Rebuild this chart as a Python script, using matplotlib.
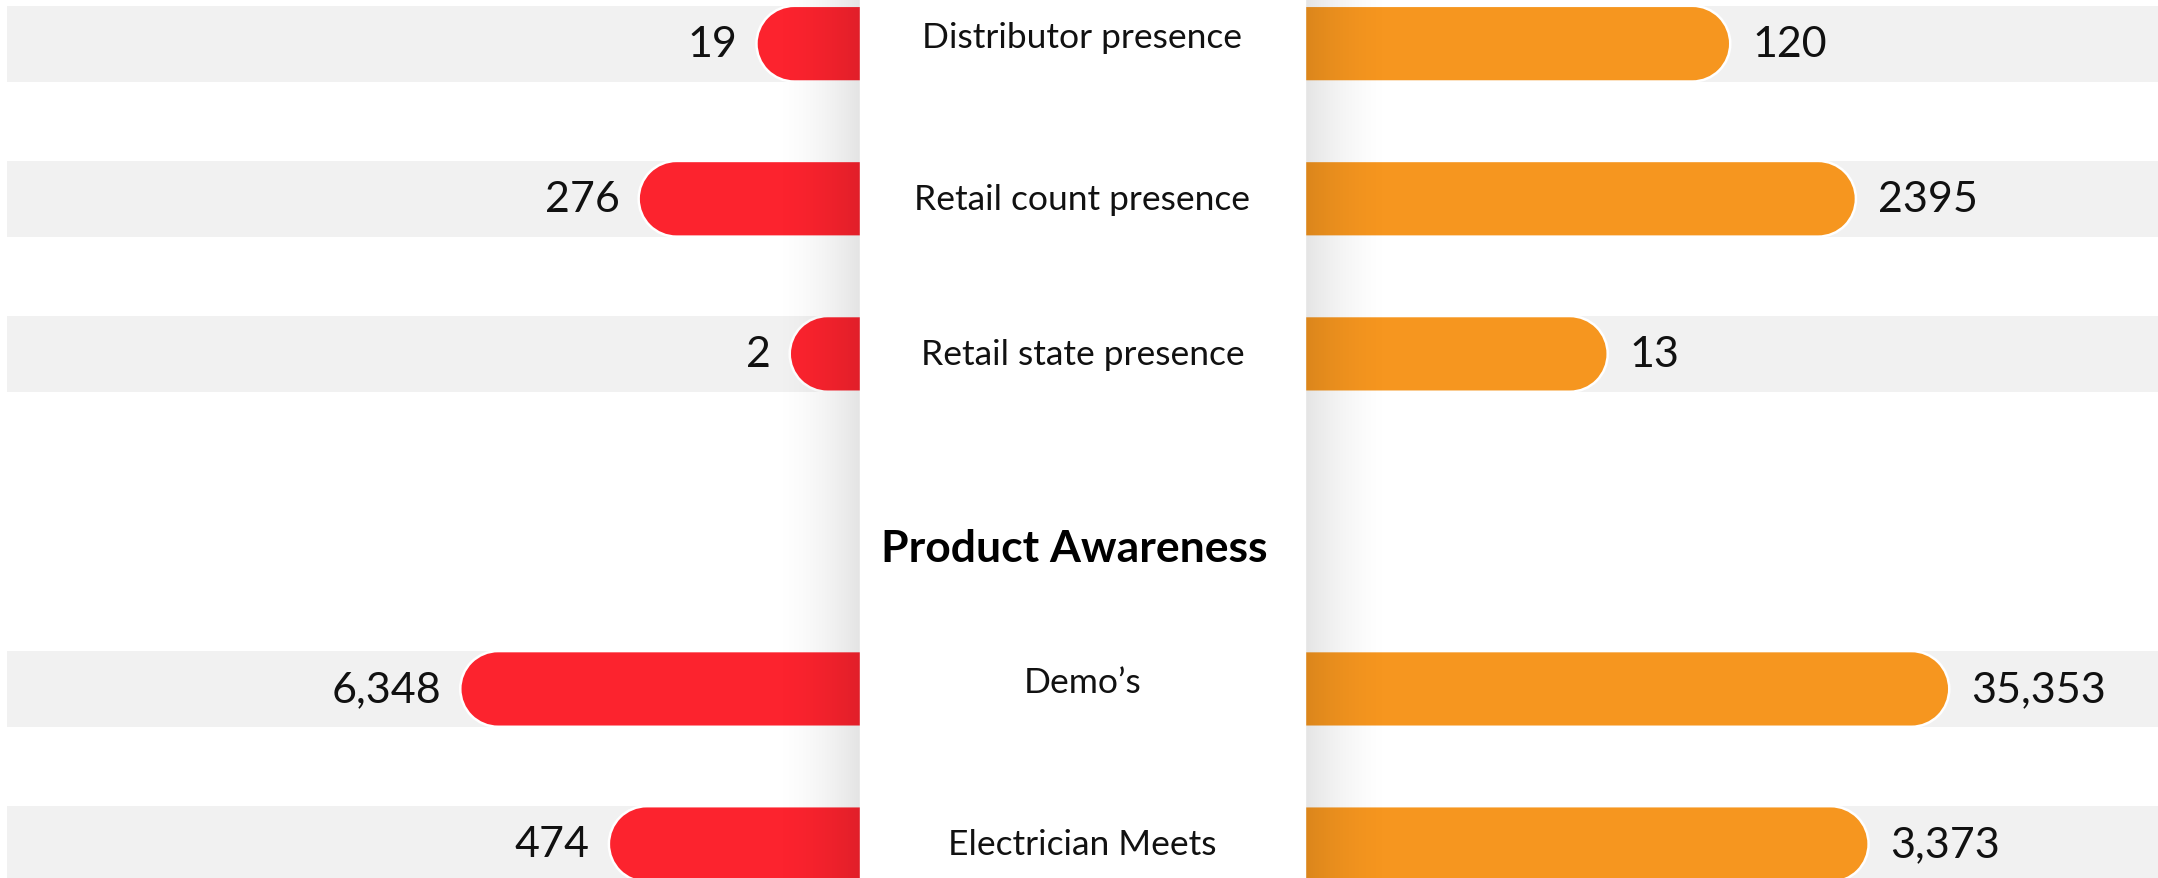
import numpy as np
import matplotlib.pyplot as plt
from matplotlib.patches import PathPatch, Rectangle
from matplotlib.path import Path
from matplotlib.transforms import IdentityTransform

plt.rcParams['font.family'] = ['Lato', 'DejaVu Sans']

# chart data
categories = ['Distributor presence', 'Retail count presence', 'Retail state presence',
              'Demo’s', 'Electrician Meets']
section_title = 'Product Awareness'
left_values = [19, 276, 2, 6348, 474]
right_values = [120, 2395, 13, 35353, 3373]
left_labels = ['19', '276', '2', '6,348', '474']
right_labels = ['120', '2395', '13', '35,353', '3,373']

W, H = 2158, 879
RED = '#fc232e'
ORANGE = '#f6961f'
BAND = '#f1f1f1'

# row layout (row units), second section after a title gap
rows = [0, 1, 2, 4.16, 5.16]
first_in_section = [True, False, False, True, False]
title_y = 3.25
ylim = (5.379, -0.288)
bar_h = 0.488
panel_l, panel_r = 860, 1305
mid = (panel_l + panel_r) / 2

fig = plt.figure(figsize=(W / 100, H / 100), dpi=100)

# background bands
ax_bg = fig.add_axes([0, 0, 1, 1], zorder=0)
ax_bg.set_xlim(0, W)
ax_bg.set_ylim(*ylim)
ax_bg.barh(rows, W - 7, left=7, height=bar_h, color=BAND)
ax_bg.axis('off')


# compressed scales for the two sides
def fwd_l(v):
    return np.log10(np.maximum(np.asarray(v, float) + 20, 1e-9))


def inv_l(g):
    return 10 ** np.asarray(g, float) - 20


def fwd_r(v):
    lg = np.log10(np.maximum(np.asarray(v, float), 1e-12))
    return np.sign(lg) * np.sqrt(np.abs(lg))


def inv_r(f):
    f = np.asarray(f, float)
    return 10 ** (np.sign(f) * f ** 2)


ax_l = fig.add_axes([0, 0, mid / W, 1], zorder=1)
ax_l.set_xscale('function', functions=(fwd_l, inv_l))
ax_l.set_xlim(inv_l(7.243), inv_l(-0.845))
ax_l.set_ylim(*ylim)
ax_r = fig.add_axes([mid / W, 0, 1 - mid / W, 1], zorder=1)
ax_r.set_xscale('function', functions=(fwd_r, inv_r))
ax_r.set_xlim(inv_r(-0.601), inv_r(2.791))
ax_r.set_ylim(*ylim)
for a in (ax_l, ax_r):
    a.axis('off')
    a.patch.set_alpha(0)


def pill(x_in, x_end, yc, r):
    # bar with a semicircular outer end, in pixels
    s = 1 if x_end > x_in else -1
    cx = x_end - s * r
    arc = Path.arc(-90, 90) if s > 0 else Path.arc(90, 270)
    av = arc.vertices * r + [cx, yc]
    if s > 0:
        verts = [(x_in, yc - r), (cx, yc - r)]
    else:
        verts = [(x_in, yc + r), (cx, yc + r)]
    codes = [Path.MOVETO, Path.LINETO]
    verts += list(av[1:])
    codes += list(arc.codes[1:])
    verts += [(x_in, yc + s * r), (x_in, yc + s * r)]
    codes += [Path.LINETO, Path.CLOSEPOLY]
    return Path(verts, codes)


def draw_bars(ax, values, labels, color, side):
    y0 = ax.transData.transform((1, 0))[1]
    y1 = ax.transData.transform((1, bar_h))[1]
    r = abs(y1 - y0) / 2
    for v, lab, y in zip(values, labels, rows):
        xe, yc = ax.transData.transform((v, y))
        p = pill(mid, xe, yc, r)
        ax.add_patch(PathPatch(p, transform=IdentityTransform(), fc=color,
                               ec='white', lw=1.8, clip_on=False))
        off = -19 if side == 'left' else 22
        ax.annotate(lab, (v, y), xytext=(off, 0), textcoords='offset pixels',
                    ha='right' if side == 'left' else 'left', va='center',
                    fontsize=31, color='#111111')


draw_bars(ax_l, left_values, left_labels, RED, 'left')
draw_bars(ax_r, right_values, right_labels, ORANGE, 'right')

# shadow + centre panel with category names
ax_top = fig.add_axes([0, 0, 1, 1], zorder=2)
ax_top.axis('off')
ax_top.patch.set_alpha(0)

sw = 90
t = np.linspace(0, 1, 200)
grad = np.zeros((1, 200, 4))
grad[0, :, 3] = 0.11 * t ** 1.7
ax_top.imshow(grad, extent=(panel_l - sw, panel_l, ylim[0], ylim[1]), aspect='auto',
              interpolation='bilinear')
ax_top.imshow(grad[:, ::-1], extent=(panel_r, panel_r + sw, ylim[0], ylim[1]), aspect='auto',
              interpolation='bilinear')
ax_top.add_patch(Rectangle((panel_l, ylim[1]), panel_r - panel_l, ylim[0] - ylim[1],
                           color='white'))
ax_top.set_xlim(0, W)
ax_top.set_ylim(*ylim)

for cat, y, first in zip(categories, rows, first_in_section):
    ax_top.text(mid, y - (0.045 if first else 0), cat, ha='center', va='center',
                fontsize=25.5, color='#111111')
ax_top.text(mid - 8, title_y, section_title, ha='center', va='center', fontsize=32,
            fontweight='bold', color='#000000')

fig.savefig('out.png', dpi=100)
